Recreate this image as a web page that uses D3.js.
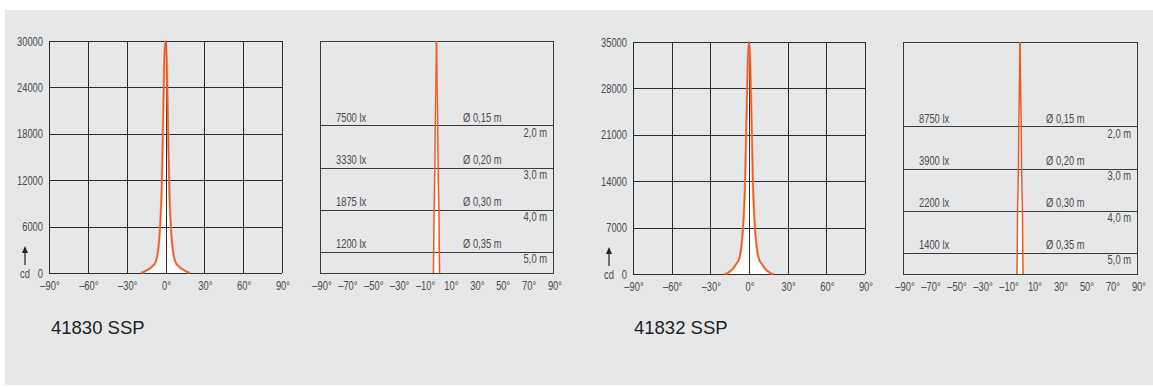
<!DOCTYPE html>
<html><head><meta charset="utf-8">
<script src="https://cdn.jsdelivr.net/npm/d3@7"></script>
<style>
html,body{margin:0;padding:0;background:#fff;}
svg{display:block;}
</style></head>
<body>
<svg id="chart" width="1153" height="387"></svg>
<script>
// ---------------- data ----------------
const angleTicksIntensity = [-90, -60, -30, 0, 30, 60, 90];
const angleTicksCone = [-90, -70, -50, -30, -10, 10, 30, 50, 70, 90];
const cdTicksA = [0, 6000, 12000, 18000, 24000, 30000];
const cdTicksB = [0, 7000, 14000, 21000, 28000, 35000];
const curveAngles = [-19, -17, -15, -12, -10, -8, -7, -6, -5, -4, -3, -2, -1, 0, 1, 2, 3, 4, 5, 6, 7, 8, 10, 12, 15, 17, 19];
const curveA = [0, 100, 300, 600, 900, 1300, 1750, 2600, 4000, 6500, 10500, 18500, 27000, 30000, 27000, 18500, 10500, 6500, 4000, 2600, 1750, 1300, 900, 600, 300, 100, 0];
const curveB = [0, 100, 350, 900, 1500, 2100, 2800, 4000, 6000, 9000, 14000, 23000, 31500, 35000, 31500, 23000, 14000, 9000, 6000, 4000, 2800, 2100, 1500, 900, 350, 100, 0];
const distances = [2, 3, 4, 5];
const maxDistance = 5.5;
const luxA = [7500, 3330, 1875, 1200];
const luxB = [8750, 3900, 2200, 1400];
const diameters = [0.15, 0.20, 0.30, 0.35];
const titles = ["41830 SSP", "41832 SSP"];

// ---------------- drawing ----------------
const svg = d3.select("#chart");
svg.append("rect").attr("x", 5).attr("y", 10).attr("width", 1148).attr("height", 375).attr("fill", "#e6e7e9");

const GRID = "#2b2b2b", TXT = "#4a4a4a", ORANGE = "#ef5a24";
const FONT = "'Liberation Sans', Arial, sans-serif";
const FS = 13, SQ = 0.72;
const fmtDeg = d => (d < 0 ? "\u2013" + Math.abs(d) : d) + "\u00b0";
const fmtComma = (v, n) => v.toFixed(n).replace(".", ",");

function small(sel) {
  sel.style("font-family", FONT).attr("font-size", FS).attr("fill", TXT);
  sel.each(function () {
    const L = this.getComputedTextLength();
    this.setAttribute("textLength", (L * SQ).toFixed(2));
    this.setAttribute("lengthAdjust", "spacingAndGlyphs");
  });
  return sel;
}

function intensityChart(p, ticks, values) {
  const g = svg.append("g");
  const x = d3.scaleLinear().domain([-90, 90]).range([p.l, p.r]);
  const y = d3.scaleLinear().domain([0, d3.max(ticks)]).range([p.b, p.t]);
  const pts = curveAngles.map((a, i) => [a, values[i]]);
  g.append("path").datum(pts)
    .attr("d", d3.area().x(d => x(d[0])).y0(y(0)).y1(d => y(d[1])).curve(d3.curveMonotoneX))
    .attr("fill", "#fff");
  g.selectAll(".vg").data(angleTicksIntensity).join("line")
    .attr("x1", d => Math.round(x(d)) + 0.5).attr("x2", d => Math.round(x(d)) + 0.5)
    .attr("y1", p.t).attr("y2", p.b).attr("stroke", GRID).attr("stroke-width", 1);
  g.selectAll(".hg").data(ticks).join("line")
    .attr("x1", p.l).attr("x2", p.r)
    .attr("y1", d => Math.round(y(d)) + 0.5).attr("y2", d => Math.round(y(d)) + 0.5)
    .attr("stroke", GRID).attr("stroke-width", 1);
  const line = d3.line().x(d => x(d[0])).y(d => y(d[1])).curve(d3.curveMonotoneX);
  g.append("path").datum(pts).attr("d", line)
    .attr("fill", "none").attr("stroke", "#f58a5c").attr("stroke-width", 2.6).attr("opacity", 0.6);
  g.append("path").datum(pts).attr("d", line)
    .attr("fill", "none").attr("stroke", ORANGE).attr("stroke-width", 1.5);
  small(g.selectAll(".yl").data(ticks).join("text")
    .attr("x", p.l - 6).attr("y", d => y(d) + 4.5).attr("text-anchor", "end").text(d => d));
  small(g.selectAll(".xl").data(angleTicksIntensity).join("text")
    .attr("x", d => x(d) + 1).attr("y", p.b + 16.5).attr("text-anchor", "middle").text(fmtDeg));
  small(g.append("text").attr("x", p.l - 19).attr("y", p.b + 4.5).attr("text-anchor", "end").text("cd"));
  const ax = p.l - 24;
  g.append("line").attr("x1", ax).attr("x2", ax).attr("y1", p.b - 8).attr("y2", p.b - 22)
    .attr("stroke", "#222").attr("stroke-width", 1.2);
  g.append("path").attr("d", `M${ax - 3},${p.b - 20}L${ax + 3},${p.b - 20}L${ax},${p.b - 27}Z`).attr("fill", "#222");
}

function coneChart(p, lux) {
  const g = svg.append("g");
  const x = d3.scaleLinear().domain([-90, 90]).range([p.l, p.r]);
  const y = d3.scaleLinear().domain([0, maxDistance]).range([p.t, p.b]);
  const cx = x(0);
  const m = d3.scaleLinear().domain([-1, 1]).range([cx - 16, cx + 16]);
  const lastSlope = diameters[diameters.length - 1] / 2 / distances[distances.length - 1];
  const edge = [[0, 0]].concat(distances.map((d, i) => [d, diameters[i] / 2]), [[maxDistance, maxDistance * lastSlope]]);
  const left = edge.map(e => [m(-e[1]), y(e[0])]);
  const right = edge.map(e => [m(e[1]), y(e[0])]);
  g.append("path").attr("d", d3.line()(left.concat(right.slice().reverse()))).attr("fill", "#fff");
  g.append("rect").attr("x", p.l + 0.5).attr("y", p.t + 0.5).attr("width", p.r - p.l).attr("height", p.b - p.t)
    .attr("fill", "none").attr("stroke", "#3a3a3a").attr("stroke-width", 1);
  g.selectAll(".hl").data(distances).join("line")
    .attr("x1", p.l).attr("x2", p.r)
    .attr("y1", d => Math.round(y(d)) + 0.5).attr("y2", d => Math.round(y(d)) + 0.5)
    .attr("stroke", "#3a3a3a").attr("stroke-width", 1);
  [left, right].forEach(pl => g.append("path").attr("d", d3.line()(pl))
    .attr("fill", "none").attr("stroke", ORANGE).attr("stroke-width", 1.5));
  small(g.selectAll(".lx").data(distances).join("text")
    .attr("x", p.l + 16).attr("y", d => y(d) - 3.5).text((d, i) => lux[i] + " lx"));
  small(g.selectAll(".dm").data(distances).join("text")
    .attr("x", p.l + 143).attr("y", d => y(d) - 3.5).text((d, i) => "\u00d8 " + fmtComma(diameters[i], 2) + " m"));
  small(g.selectAll(".ds").data(distances).join("text")
    .attr("x", p.r - 6).attr("y", d => y(d) + 11.5).attr("text-anchor", "end").text(d => fmtComma(d, 1) + " m"));
  small(g.selectAll(".xl").data(angleTicksCone).join("text")
    .attr("x", d => x(d) + 2).attr("y", p.b + 16.5).attr("text-anchor", "middle").text(fmtDeg));
}

intensityChart({l: 49, r: 282, t: 41, b: 273}, cdTicksA, curveA);
coneChart({l: 320, r: 553, t: 41, b: 273}, luxA);
intensityChart({l: 633, r: 865, t: 42, b: 274}, cdTicksB, curveB);
coneChart({l: 903, r: 1137, t: 42, b: 274}, luxB);

svg.selectAll(".title").data(titles).join("text")
  .attr("x", (d, i) => i === 0 ? 51 : 634).attr("y", 334)
  .style("font-family", FONT)
  .attr("font-size", 18.5).attr("fill", "#222").text(d => d);
</script>
</body></html>
